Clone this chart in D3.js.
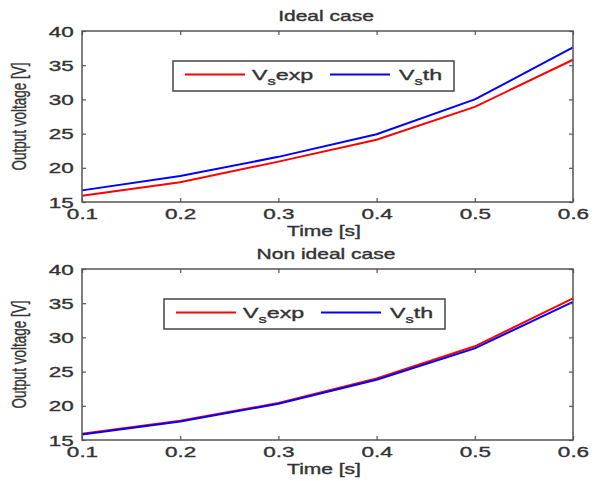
<!DOCTYPE html>
<html>
<head>
<meta charset="utf-8">
<script src="https://d3js.org/d3.v7.min.js"></script>
<style>
  body { margin: 0; background: #fff; }
  text { font-family: "Liberation Sans", Arial, sans-serif; fill: #333; }
</style>
</head>
<body>
<svg id="chart" width="601" height="481"></svg>
<script>

// values
var times = [0.1, 0.2, 0.3, 0.4, 0.5, 0.6];
var idealExp = [15.9, 17.9, 20.9, 24.1, 28.9, 35.8];
var idealTh = [16.7, 18.8, 21.6, 24.9, 30.0, 37.6];
var nonIdealExp = [15.9, 17.8, 20.4, 24.0, 28.7, 35.7];
var nonIdealTh = [15.8, 17.7, 20.3, 23.8, 28.4, 35.2];
var xTicks = [0.1, 0.2, 0.3, 0.4, 0.5, 0.6];
var yTicks = [15, 20, 25, 30, 35, 40];
var titles = ["Ideal case", "Non ideal case"];

var svg = d3.select("#chart");
var left = 82, right = 573, plotH = 171;
var sx = 1.5; // the text in the picture is stretched sideways

var x = d3.scaleLinear().domain([0.1, 0.6]).range([left, right]);

// text placed at x,y and stretched horizontally
var label = function(g, tx, ty, str, size, anchor) {
  return g.append("text")
    .attr("transform", "translate(" + tx + "," + ty + ") scale(" + sx + ",1)")
    .attr("text-anchor", anchor || "middle")
    .style("font-size", size + "px")
    .style("stroke", "#333")
    .style("stroke-width", 0.35)
    .text(str);
};

var drawPanel = function(top, exp, th, title, legendX) {
  var y = d3.scaleLinear().domain([15, 40]).range([top + plotH, top]);
  var g = svg.append("g");

  // data lines
  var line = d3.line()
    .x(function(d, i) { return x(times[i]); })
    .y(function(d) { return y(d); });

  g.append("path").datum(exp)
    .attr("d", line).attr("fill", "none")
    .attr("stroke", "#ff0000").attr("stroke-width", 2);
  g.append("path").datum(th)
    .attr("d", line).attr("fill", "none")
    .attr("stroke", "#0000ff").attr("stroke-width", 2);

  // axes with inward ticks
  var bottom = g.append("g")
    .attr("transform", "translate(0," + (top + plotH) + ")")
    .call(d3.axisBottom(x).tickValues(xTicks).tickSizeInner(-4).tickSizeOuter(0)
      .tickFormat(d3.format(".1f")));
  bottom.selectAll("text")
    .attr("y", 17).attr("dy", null)
    .attr("transform", "scale(" + sx + ",1)")
    .style("font-size", "15px").style("stroke", "#333").style("stroke-width", 0.35);

  var leftAx = g.append("g")
    .attr("transform", "translate(" + left + ",0)")
    .call(d3.axisLeft(y).tickValues(yTicks).tickSizeInner(-4).tickSizeOuter(0));
  leftAx.selectAll("text")
    .attr("x", -5.5).attr("dy", "0.34em")
    .attr("transform", "scale(" + sx + ",1)")
    .style("font-size", "15px").style("stroke", "#333").style("stroke-width", 0.35);

  g.append("g")
    .attr("transform", "translate(0," + top + ")")
    .call(d3.axisTop(x).tickValues(xTicks).tickSizeInner(-4).tickSizeOuter(0).tickFormat(""));
  g.append("g")
    .attr("transform", "translate(" + right + ",0)")
    .call(d3.axisRight(y).tickValues(yTicks).tickSizeInner(-4).tickSizeOuter(0).tickFormat(""));

  g.selectAll(".domain").remove();
  g.selectAll(".tick line").attr("stroke", "#555").attr("stroke-width", 1.2);

  g.append("rect")
    .attr("x", left).attr("y", top)
    .attr("width", right - left).attr("height", plotH)
    .attr("fill", "none").attr("stroke", "#555").attr("stroke-width", 1.5);

  // titles and axis labels
  label(g, 326, top - 10, title, 14);
  label(g, 324, top + plotH + 34, "Time [s]", 14);
  g.append("text")
    .attr("transform", "translate(26," + (top + plotH / 2) + ") scale(" + sx + ",1) rotate(-90)")
    .attr("text-anchor", "middle")
    .style("font-size", "13.5px")
    .style("stroke", "#333").style("stroke-width", 0.25)
    .text("Output voltage [V]");

  // legend
  var lg = g.append("g").attr("transform", "translate(" + legendX + "," + (top + 30) + ")");
  lg.append("rect")
    .attr("width", 281).attr("height", 30)
    .attr("fill", "#fff").attr("stroke", "#444").attr("stroke-width", 1.5);
  var items = [
    { name: "exp", color: "#ff0000", x0: 12, tx: 79 },
    { name: "th", color: "#0000ff", x0: 157, tx: 226 }
  ];
  items.forEach(function(d) {
    lg.append("line")
      .attr("x1", d.x0).attr("x2", d.x0 + 60)
      .attr("y1", 13.5).attr("y2", 13.5)
      .attr("stroke", d.color).attr("stroke-width", 2);
    var t = label(lg, d.tx, 19, "", 15.5, "start");
    t.append("tspan").text("V");
    t.append("tspan").attr("dy", 5).style("font-size", "11px").text("s");
    t.append("tspan").attr("dy", -5).text(d.name);
  });
};

drawPanel(31, idealExp, idealTh, titles[0], 173);
drawPanel(269, nonIdealExp, nonIdealTh, titles[1], 164);

</script>
</body>
</html>
